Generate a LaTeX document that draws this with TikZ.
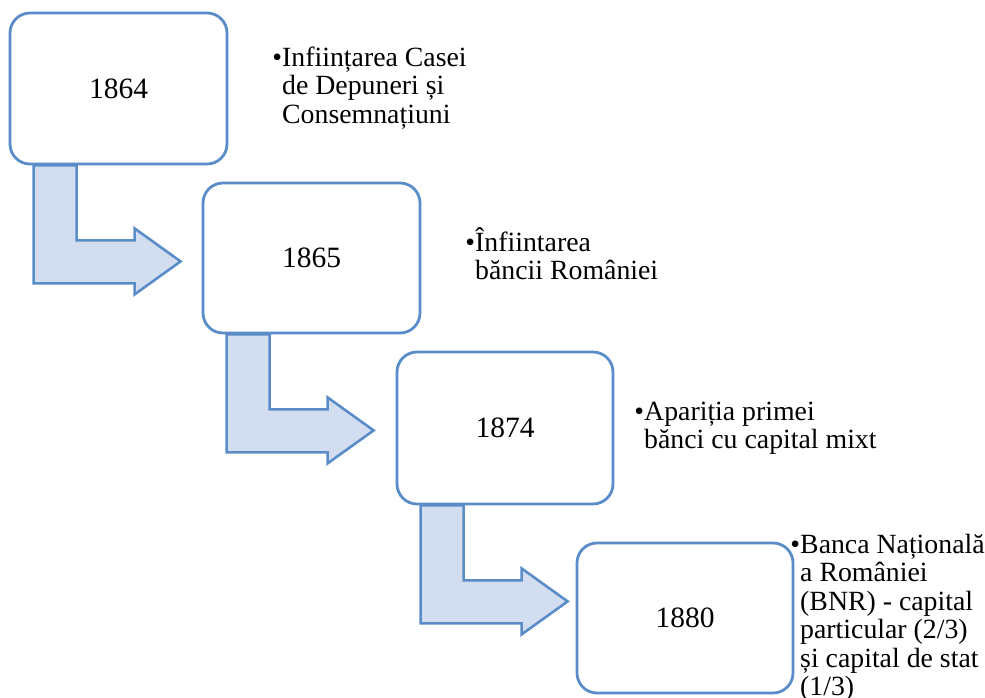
\documentclass[tikz,border=0pt]{standalone}
\usepackage{fontspec}
\setmainfont{Liberation Serif}
\usetikzlibrary{calc,backgrounds}
\definecolor{bordblue}{HTML}{5A8CC8}
\definecolor{fillblue}{HTML}{D2DDEF}
\tikzset{
  yearbox/.style={draw=bordblue, line width=2.8pt, rounded corners=20pt, fill=white,
    inner sep=0pt, font=\fontsize{29.5}{31}\selectfont},
  bentarrow/.style={draw=bordblue, line width=2.6pt, fill=fillblue, line join=miter},
  bullettext/.style={anchor=base west, inner sep=0pt, font=\fontsize{27.8}{28.5}\selectfont}
}
\newcommand{\bul}{\llap{•}}
\begin{document}
\begin{tikzpicture}[x=1pt,y=-1pt]
\useasboundingbox (0,0) rectangle (985,697);
\node[yearbox, minimum width=217pt, minimum height=151pt] (b1) at (118.5,88.5) {1864};
\node[yearbox, minimum width=217pt, minimum height=150pt] (b2) at (311.5,258) {1865};
\node[yearbox, minimum width=216pt, minimum height=152pt] (b3) at (505,428) {1874};
\node[yearbox, minimum width=216pt, minimum height=150pt] (b4) at (685,618) {1880};
\begin{scope}[on background layer]
\foreach \s in {b1,b2,b3}{
  \draw[bentarrow] ($(\s.south west)+(25,0)$) -- ($(\s.south west)+(68,0)$)
    -- ($(\s.south west)+(68,75)$) -- ($(\s.south west)+(126,75)$)
    -- ($(\s.south west)+(126,63)$) -- ($(\s.south west)+(172,96)$)
    -- ($(\s.south west)+(126,129)$) -- ($(\s.south west)+(126,118)$)
    -- ($(\s.south west)+(25,118)$) -- cycle;
}
\end{scope}
\node[bullettext] (t1) at (282,66) {\begin{tabular}[t]{@{}l@{}}\bul Inființarea Casei\\ de Depuneri și\\ Consemnațiuni\end{tabular}};
\node[bullettext] (t2) at (475,251) {\begin{tabular}[t]{@{}l@{}}\bul Înfiintarea\\ băncii României\end{tabular}};
\node[bullettext] (t3) at (644,420) {\begin{tabular}[t]{@{}l@{}}\bul Apariția primei\\ bănci cu capital mixt\end{tabular}};
\node[bullettext] (t4) at (800,553) {\begin{tabular}[t]{@{}l@{}}\bul Banca Națională\\ a României\\ (BNR) - capital\\ particular (2/3)\\ și capital de stat\\ (1/3)\end{tabular}};
\end{tikzpicture}
\end{document}
